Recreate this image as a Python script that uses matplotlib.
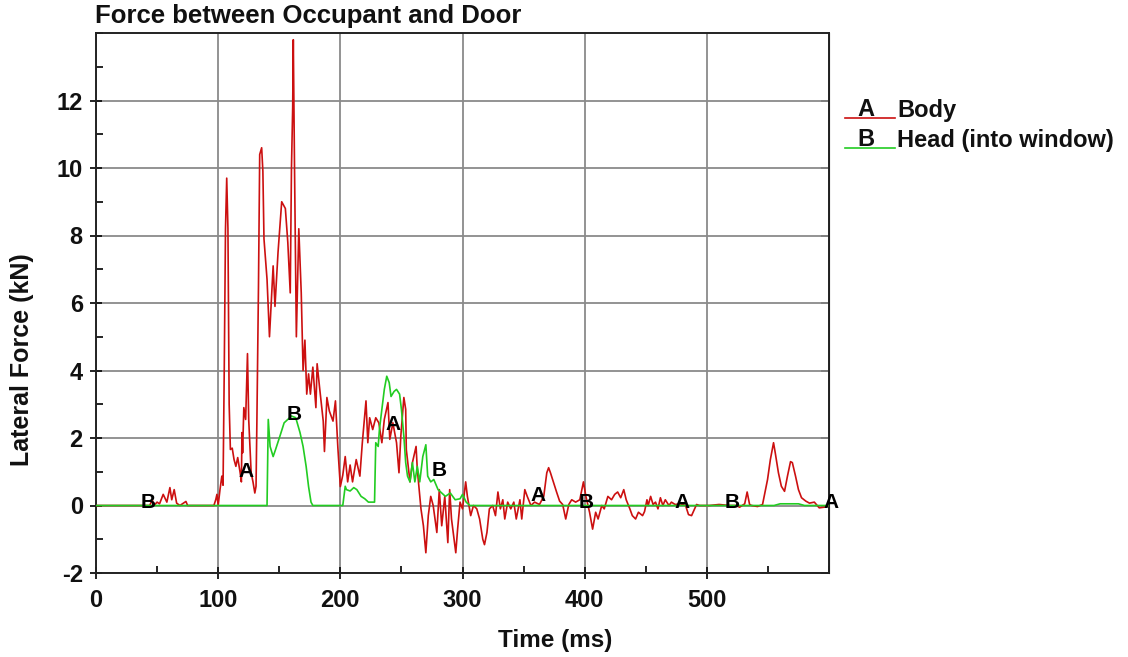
import matplotlib
matplotlib.use("Agg")
import matplotlib.pyplot as plt
from matplotlib.lines import Line2D
from matplotlib.ticker import MultipleLocator
import numpy as np

plt.rcParams['font.family'] = ['Liberation Sans', 'DejaVu Sans']
plt.rcParams['font.weight'] = 'bold'
plt.rcParams['axes.unicode_minus'] = False

# Body (curve A) - time in ms, lateral force in kN
body_t = [0, 44, 46, 47.5, 50, 52, 55, 58, 60.5, 62, 64, 66, 68.7, 73.6, 75, 96.5,
          98, 99, 100, 101.5, 103, 104, 105, 106, 107, 108, 109, 110, 111.5, 113,
          114.5, 116, 118, 119, 119.5, 120, 121, 122.5, 124, 125, 127, 128.5, 130,
          131, 131.7, 133, 134, 135.6, 136.6, 137.5, 140, 142, 145, 146.5, 149, 152,
          155, 157, 159, 160, 161, 161.5, 162.5, 164, 166, 168, 169.5, 171, 172.5,
          174, 175.5, 177.5, 180, 181, 183, 186, 187, 189, 191, 194, 196, 198, 200,
          202, 204, 206, 208, 210, 213, 216, 218, 221, 222.5, 224, 226.5, 229, 231.5,
          234, 236, 239, 240.5, 243, 246, 248, 249.5, 252, 253.5, 254, 257, 259, 262,
          263, 266, 268, 270, 272, 274, 276, 279, 281, 283, 285.5, 288, 289.5, 291,
          294.5, 296, 298, 300, 302.6, 304, 306.7, 309, 311.7, 314, 316.6, 318, 320,
          322, 324.7, 327, 329, 331, 333, 334.6, 337, 339.5, 342, 344, 347, 348.5,
          351, 353, 356, 359, 363, 366.5, 369, 370.5, 372, 374.6, 377, 379.5, 382,
          384.5, 387, 389.4, 392.6, 396, 399, 401, 404, 406.5, 409, 411, 414, 416,
          419, 422, 424.6, 427, 429.5, 432, 434, 437, 439, 441.7, 444, 447.4, 449,
          451, 452, 454, 456, 458, 460, 462, 464, 466, 469, 471, 474, 478.5, 482.6,
          485, 487.5, 490, 491.6, 494, 502, 510, 518.6, 524, 526.8, 531, 533, 535,
          536.6, 541.5, 545.6, 548, 549.7, 552, 554.6, 556, 558.6, 561, 563.6, 566,
          568.5, 570, 572.6, 575, 577.5, 581, 584, 588, 592, 596, 600]
body_f = [0, 0, 0.17, 0, 0.1, 0.05, 0.33, 0.1, 0.53, 0.17, 0.47, 0.07, 0, 0.12, 0, 0,
          0.17, 0.33, 0, 0.47, 0.87, 0.6, 4.1, 8.2, 9.7, 8.2, 3.0, 1.66, 1.7, 1.36,
          1.16, 1.42, 0.97, 0.7, 2.16, 1.56, 2.9, 2.55, 4.5, 2.55, 0.97, 0.7, 0.37,
          0.57, 2.5, 6.5, 10.4, 10.6, 9.9, 7.9, 6.7, 5.0, 7.1, 5.9, 7.5, 9.0,
          8.8, 7.8, 6.3, 10.0, 11.8, 13.8, 10.0, 5.0, 8.2, 6.3, 4.0, 4.9, 3.3,
          3.9, 3.3, 4.1, 2.9, 4.2, 3.5, 2.5, 1.6, 3.2, 2.8, 2.5, 3.1, 1.7, 0.56,
          0.9, 1.45, 0.7, 1.2, 0.7, 1.36, 0.87, 1.86, 3.1, 1.86, 2.6, 2.25, 2.6, 2.45,
          1.86, 2.55, 3.05, 1.96, 2.45, 1.86, 0.97, 2.05, 3.2, 2.85, 1.66, 0.7, 1.27, 1.75,
          1.07, -0.1, -0.6, -1.4, -0.3, 0.27, 0, -0.8, 0.47, -0.6, 0.27, -1.1, 0.47, -0.4,
          -1.4, -0.7, 0.1, -0.1, 0.7, 0.27, -0.3, 0, -0.1, -0.4, -1.0, -1.16, -0.8,
          -0.1, 0, -0.3, 0.4, -0.1, 0.17, -0.4, 0.1, -0.1, 0.1, -0.4, 0.17, -0.4,
          0.47, 0.27, 0, 0.1, 0.03, 0.27, 0.97, 1.12, 0.97, 0.67, 0.4, 0.13, 0.03,
          -0.4, 0.03, 0.17, 0.1, 0.17, 0.7, 0.27, -0.2, -0.7, -0.2, -0.4, 0, -0.1,
          0.27, 0.17, 0.33, 0.4, 0.23, 0.47, 0.17, -0.1, -0.3, -0.4, -0.2, -0.3, -0.18,
          0.17, 0, 0.27, 0.03, 0.1, -0.1, 0.23, 0, 0.17, 0, 0.1, 0.03, 0.05, 0,
          -0.27, -0.3, -0.1, 0.03, 0, 0, 0.03, 0, 0, -0.05, 0.05, 0.4, 0.03,
          0, -0.03, 0.03, 0.47, 0.77, 1.36, 1.86, 1.56, 0.97, 0.57, 0.42, 0.87,
          1.3, 1.27, 0.87, 0.47, 0.23, 0.13, 0.07, 0.1, -0.07, -0.05, 0]

# Head into window (curve B)
head_t = [0, 140, 141, 142.5, 145, 147, 150.5, 154, 157, 160, 163.5, 167, 169.5, 172,
          174, 176, 177.5, 202, 204, 205, 208, 211, 213.5, 217, 220, 223, 228, 229,
          231, 232, 234, 236, 238, 240, 241.5, 244, 246, 248.5, 250, 252, 253.5, 255,
          257, 259, 261, 263, 265, 267.5, 270, 271.5, 274, 276.5, 280, 283, 286, 290,
          294, 298, 300, 303, 306, 555, 560, 575, 580, 600]
head_f = [0, 0, 2.55, 1.75, 1.45, 1.66, 2.05, 2.45, 2.55, 2.65, 2.6, 2.16, 1.75, 1.16,
          0.56, 0.1, 0, 0, 0.57, 0.47, 0.43, 0.53, 0.47, 0.27, 0.2, 0.1, 0.1, 1.86,
          1.75, 2.25, 2.85, 3.44, 3.83, 3.64, 3.23, 3.38, 3.44, 3.3, 2.85, 2.05, 1.27, 0.87,
          0.7, 1.27, 0.7, 1.16, 0.7, 1.45, 1.8, 0.87, 0.7, 0.77, 0.47, 0.37, 0.27, 0.37,
          0.17, 0.2, 0.33, 0.1, 0, 0, 0.05, 0.05, 0, 0]

# curve identifier letters as placed on the plot
label_a_t = [122.6, 243, 362, 480, 602]
label_a_f = [1.0, 2.4, 0.3, 0.1, 0.1]
label_b_t = [43, 162, 281, 401, 521]
label_b_f = [0.1, 2.7, 1.05, 0.1, 0.1]

x_ticks = [0, 100, 200, 300, 400, 500]
y_ticks = [-2, 0, 2, 4, 6, 8, 10, 12]

red = '#cc1010'
green = '#22cc22'
grid_grey = '#8a8a8a'

W, H = 1128, 657
fig = plt.figure(figsize=(W / 100, H / 100), dpi=100)
ax = fig.add_axes([96 / W, 1 - 573 / H, (829 - 96) / W, (573 - 33) / H])

ax.plot(body_t, body_f, color=red, linewidth=1.2, zorder=3)
ax.plot(head_t, head_f, color=green, linewidth=1.2, zorder=3)

for t, f in zip(label_a_t, label_a_f):
    ax.text(t, f, 'A', fontsize=15, fontweight='bold', ha='center', va='center',
            clip_on=False, zorder=4)
for t, f in zip(label_b_t, label_b_f):
    ax.text(t, f, 'B', fontsize=15, fontweight='bold', ha='center', va='center',
            clip_on=False, zorder=4)

ax.set_xlim(0, 600)
ax.set_ylim(-2, 14)
ax.set_xticks(x_ticks)
ax.set_yticks(y_ticks)
ax.xaxis.set_minor_locator(MultipleLocator(50))
ax.yaxis.set_minor_locator(MultipleLocator(1))
ax.grid(True, which='major', color=grid_grey, linewidth=1.3)
ax.set_axisbelow(True)

ax.tick_params(which='major', direction='inout', length=9, width=1.3,
               labelsize=17, pad=5, colors='#111111')
ax.tick_params(which='minor', direction='in', length=5, width=1.2)
ax.tick_params(axis='x', which='major', pad=7)
for s in ax.spines.values():
    s.set_linewidth(1.4)
    s.set_color('#222222')

right = ax.secondary_yaxis('right')
right.set_yticks(y_ticks)
right.tick_params(direction='in', length=6, width=1.2, labelright=False)

fig.text(95 / W, 1 - 16 / H, 'Force between Occupant and Door', fontsize=18.5,
         fontweight='bold', ha='left', va='center', color='#111111')
fig.text(555 / W, 1 - 640 / H, 'Time (ms)', fontsize=17.5, fontweight='bold',
         ha='center', va='center', color='#111111')
fig.text(22 / W, 1 - 360 / H, 'Lateral Force (kN)', fontsize=18, fontweight='bold',
         rotation=90, ha='center', va='center', color='#111111')

# legend drawn like the original plot header
legend_rows = [('A', 'Body', red, 110), ('B', 'Head (into window)', green, 140)]
for letter, name, col, py in legend_rows:
    fig.add_artist(Line2D([845 / W, 895 / W], [1 - (py + 8) / H, 1 - (py + 8) / H],
                          color=col, linewidth=1.2, transform=fig.transFigure))
    fig.text(866 / W, 1 - py / H, letter, fontsize=17, fontweight='bold',
             ha='center', va='center', color='#111111')
    fig.text(897 / W, 1 - py / H, name, fontsize=17, fontweight='bold',
             ha='left', va='center', color='#111111')

fig.savefig('out.png', dpi=100)
